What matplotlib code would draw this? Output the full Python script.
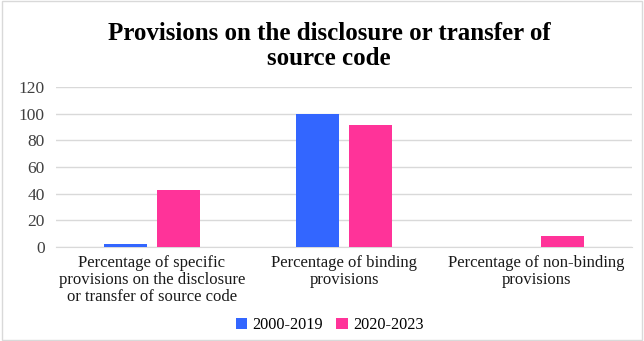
import numpy as np
import matplotlib.pyplot as plt
from matplotlib.patches import Rectangle

categories = ['Percentage of specific\nprovisions on the disclosure\nor transfer of source code',
              'Percentage of binding\nprovisions',
              'Percentage of non-binding\nprovisions']
series_names = ['2000-2019', '2020-2023']
vals_2000_2019 = [2.6, 100, 0]
vals_2020_2023 = [42.5, 91.3, 8.0]
colors = ['#3366FF', '#FF3399']

plt.rcParams['font.family'] = ['Liberation Serif', 'DejaVu Serif']

fig = plt.figure(figsize=(6.44, 3.41), dpi=100)
ax = fig.add_axes([56 / 644, 1 - 247 / 341, 576 / 644, 160 / 341])

x = np.arange(len(categories))
w = 0.224
ax.bar(x - 0.14, vals_2000_2019, w, color=colors[0], label=series_names[0], zorder=3)
ax.bar(x + 0.14, vals_2020_2023, w, color=colors[1], label=series_names[1], zorder=3)

ax.set_xlim(-0.5, 2.5)
ax.set_ylim(0, 120)
ax.set_yticks(range(0, 121, 20))
ax.yaxis.grid(True, color='#D9D9D9', linewidth=1, zorder=0)
ax.set_xticks(x)
ax.set_xticklabels(categories, fontsize=12, color='#1a1a1a', linespacing=1.05)
ax.tick_params(axis='y', length=0, labelsize=12.5, labelcolor='#404040', pad=8)
ax.tick_params(axis='x', length=0, pad=6)
for s in ['top', 'right', 'left']:
    ax.spines[s].set_visible(False)
ax.spines['bottom'].set_color('#D9D9D9')

fig.text(0.511, 0.866, 'Provisions on the disclosure or transfer of\nsource code',
         ha='center', va='center', fontsize=18, fontweight='bold', linespacing=1.1)

fig.legend(loc='center', bbox_to_anchor=(0.512, 0.047), ncol=2, frameon=False,
           fontsize=11.7, handlelength=0.7, handleheight=0.7, handletextpad=0.35,
           columnspacing=0.8)

fig.patches.append(Rectangle((0.003, 0.003), 0.994, 0.994, transform=fig.transFigure,
                             fill=False, edgecolor='#D9D9D9', linewidth=1))

fig.savefig('out.png', dpi=100)
